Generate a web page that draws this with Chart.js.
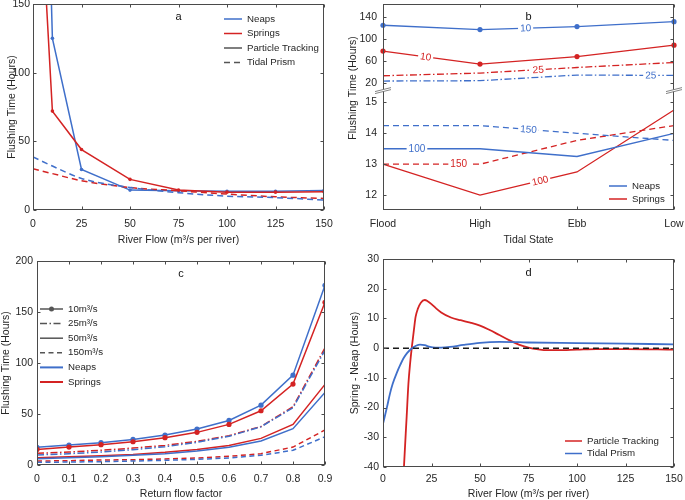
<!DOCTYPE html>
<html>
<head>
<meta charset="utf-8">
<script src="https://cdn.jsdelivr.net/npm/chart.js@4.4.1/dist/chart.umd.min.js"></script>
<style>
html, body { margin: 0; padding: 0; background: #fff; }
#wrap { position: relative; width: 685px; height: 500px; overflow: hidden; }
canvas { position: absolute; }
</style>
</head>
<body>
<div id="wrap">
  <canvas id="ca" width="340" height="250" style="left:0;top:0"></canvas>
  <canvas id="cb" width="345" height="250" style="left:340px;top:0"></canvas>
  <canvas id="cc" width="340" height="250" style="left:0;top:250px"></canvas>
  <canvas id="cd" width="345" height="250" style="left:340px;top:250px"></canvas>
</div>
<script>
const BLUE = '#3f6fca';
const RED = '#d42323';
const GREY = '#555';
const INK = '#262626';
const FONT = '"Liberation Sans", Arial, Helvetica, sans-serif';

// panel a - flushing time vs river flow
const flowPT = [5, 10, 25, 50, 75, 100, 125, 150];
const neapsPT = [380, 125, 29.5, 14.5, 14, 13.6, 13.6, 14.2];
const springsPT = [200, 72, 44, 22.3, 14.5, 13, 13, 13.2];
const flowTP = [0, 10, 25, 50, 75, 100, 125, 150];
const neapsTP = [38.6, 32, 23, 16.4, 12.6, 10.1, 9, 7.3];
const springsTP = [30, 26.5, 21.3, 16.4, 14, 11.6, 9.6, 8.4];

// panel b - flushing time by tidal state (broken axis)
const tidalStates = ['Flood', 'High', 'Ebb', 'Low'];
const neaps10 = [124.7, 117, 122.4, 131.2];
const springs10 = [78.2, 54.7, 68.2, 88.8];
const springs25 = [33.7, 38.6, 48.6, 57.6];
const neaps25 = [24.2, 24.8, 35, 34.3];
const neaps150 = [14.25, 14.25, 14.0, 13.77];
const neaps100 = [13.5, 13.5, 13.25, 14.0];
const springs150 = [13.0, 13.0, 13.77, 14.25];
const springs100 = [13.0, 12.0, 12.75, 14.75];
const upperTicks = [20, 60, 100, 140];
const lowerTicks = [12, 13, 14, 15];

// panel c - return flow factor
const returnFactor = [0, 0.1, 0.2, 0.3, 0.4, 0.5, 0.6, 0.7, 0.8, 0.9];
const neaps10c = [17.3, 19.6, 21.9, 25.1, 29.4, 35.2, 43.7, 58.7, 88.1, 176.2];
const springs10c = [15.3, 17.6, 19.9, 22.8, 26.8, 32, 39.8, 53.2, 79.3, 159.5];
const springs25c = [11.4, 12.7, 14.4, 16.6, 19.2, 23.2, 28.7, 37.8, 57.1, 114.8];
const neaps25c = [9.8, 11.1, 12.7, 15, 17.9, 22.2, 28.1, 37.5, 56.1, 112.6];
const springs50c = [7.2, 8.2, 9.1, 10.4, 12.4, 15.3, 19.2, 26.1, 39.8, 79];
const neaps50c = [6.2, 7.2, 8.2, 9.5, 11.1, 13.7, 17.3, 23.5, 35.6, 71.1];
const springs150c = [3.9, 4.2, 4.9, 5.2, 5.9, 6.9, 8.5, 11.1, 17.6, 34.3];
const neaps150c = [2.6, 2.9, 3.3, 3.9, 4.6, 5.5, 6.9, 9.5, 14.4, 27.7];

// panel d - spring minus neap
const flowDiffPT = [10, 10.8, 12.2, 13.1, 14, 14.8, 16, 16.8, 18, 19.5, 21.5, 23, 25, 27.5, 30, 35, 40, 45, 50, 55, 60, 65, 70, 75, 80, 85, 90, 100, 110, 125, 150];
const diffPT = [-52, -40, -23, -12, -5, 0, 6.5, 10.5, 13.3, 15.3, 16.2, 15.8, 14.8, 13.3, 12, 10.3, 9.4, 8.6, 7.6, 6.1, 4.4, 2.7, 1.2, 0.2, -0.4, -0.7, -0.7, -0.5, -0.3, -0.3, -0.5];
const flowDiffTP = [0, 2, 3.6, 5, 7, 9, 10.5, 12.5, 14.8, 17, 19.1, 21.5, 24.2, 27, 30, 34.5, 41.4, 50, 60, 70, 75, 100, 125, 150];
const diffTP = [-25.5, -20, -15.3, -12, -8.5, -5.5, -3.5, -1.6, -0.1, 0.8, 1.2, 1.0, 0.4, 0.2, 0.2, 0.4, 1.1, 1.8, 2.1, 2.0, 1.9, 1.7, 1.5, 1.3];
const zeroFlow = [0, 150];
const zeroLine = [0, 0];

Chart.defaults.font.family = FONT;
Chart.defaults.font.size = 10.5;
Chart.defaults.color = INK;

const pairs = (xs, ys) => xs.map((x, i) => ({ x: x, y: ys[i] }));
const noPad = s => { s.paddingTop = 0; s.paddingBottom = 0; s.paddingLeft = 0; s.paddingRight = 0; };

// box round the plot with inward ticks on all four sides
const frame = {
    id: 'frame',
    afterDatasetsDraw(chart) {
        const { ctx, chartArea: a } = chart;
        const L = Math.round(a.left) + 0.5, R = Math.round(a.right) - 0.5;
        const T = Math.round(a.top) + 0.5, B = Math.round(a.bottom) - 0.5;
        ctx.save();
        ctx.strokeStyle = '#4a4a4a';
        ctx.lineWidth = 1;
        ctx.beginPath();
        Object.values(chart.scales).forEach(s => {
            s.ticks.forEach((t, i) => {
                const p = Math.round(s.getPixelForTick(i)) + 0.5;
                if (s.isHorizontal()) {
                    ctx.moveTo(p, B); ctx.lineTo(p, B - 3);
                    ctx.moveTo(p, T); ctx.lineTo(p, T + 3);
                } else {
                    ctx.moveTo(L, p); ctx.lineTo(L + 3, p);
                    ctx.moveTo(R, p); ctx.lineTo(R - 3, p);
                }
            });
        });
        ctx.stroke();
        ctx.strokeRect(L, T, R - L, B - T);
        ctx.restore();
    }
};

// legend drawn inside the plot area
const keyBox = {
    id: 'keyBox',
    afterDraw(chart, args, o) {
        if (!o.items) return;
        const { ctx, chartArea: a } = chart;
        ctx.save();
        ctx.font = '9.7px ' + FONT;
        ctx.textBaseline = 'middle';
        o.items.forEach((it, i) => {
            const y = a.top + o.y + i * o.row;
            const x0 = a.left + o.x;
            ctx.strokeStyle = it.color;
            ctx.lineWidth = it.width || 1.5;
            ctx.setLineDash(it.dash || []);
            ctx.beginPath(); ctx.moveTo(x0, y); ctx.lineTo(x0 + o.len, y); ctx.stroke();
            ctx.setLineDash([]);
            if (it.dot) {
                ctx.fillStyle = it.color;
                ctx.beginPath(); ctx.arc(x0 + o.len / 2, y, 2.5, 0, Math.PI * 2); ctx.fill();
            }
            ctx.fillStyle = INK;
            ctx.fillText(it.text, x0 + o.len + o.gap, y);
        });
        ctx.restore();
    }
};

// panel letter
const panelTag = {
    id: 'panelTag',
    afterDraw(chart, args, o) {
        if (!o.text) return;
        const { ctx, chartArea: a } = chart;
        ctx.save();
        ctx.font = '11px ' + FONT;
        ctx.fillStyle = '#111';
        ctx.textAlign = 'center';
        ctx.textBaseline = 'middle';
        ctx.fillText(o.text, (a.left + a.right) / 2, a.top + o.dy);
        ctx.restore();
    }
};

// contour-style labels sitting on the lines of panel b
const lineTags = {
    id: 'lineTags',
    afterDatasetsDraw(chart, args, o) {
        if (!o.tags) return;
        const ctx = chart.ctx;
        ctx.save();
        ctx.font = '10px ' + FONT;
        ctx.textAlign = 'center';
        ctx.textBaseline = 'middle';
        o.tags.forEach(tag => {
            const meta = chart.getDatasetMeta(tag.ds);
            const p0 = meta.data[tag.seg], p1 = meta.data[tag.seg + 1];
            const x = p0.x + tag.t * (p1.x - p0.x);
            const y = p0.y + tag.t * (p1.y - p0.y);
            const w = ctx.measureText(tag.text).width;
            ctx.save();
            ctx.translate(x, y);
            ctx.rotate(Math.atan2(p1.y - p0.y, p1.x - p0.x));
            ctx.fillStyle = '#fff';
            ctx.fillRect(-w / 2 - 2, -4, w + 4, 8);
            ctx.fillStyle = chart.data.datasets[tag.ds].borderColor;
            ctx.fillText(tag.text, 0, 0.5);
            ctx.restore();
        });
        ctx.restore();
    }
};

// "//" marks where the two stacked y axes meet, plus the shared y title
const axisBreak = {
    id: 'axisBreak',
    afterDraw(chart, args, o) {
        if (!o.text) return;
        const { ctx, chartArea: a } = chart;
        const y = chart.scales.yTop.bottom;
        ctx.save();
        [a.left, a.right].forEach(x => {
            ctx.fillStyle = '#fff';
            ctx.beginPath();
            ctx.moveTo(x - 8, y + 1); ctx.lineTo(x + 8, y - 3);
            ctx.lineTo(x + 8, y - 1); ctx.lineTo(x - 8, y + 3);
            ctx.closePath(); ctx.fill();
            ctx.strokeStyle = '#666';
            ctx.lineWidth = 0.8;
            ctx.beginPath();
            ctx.moveTo(x - 8, y + 1); ctx.lineTo(x + 8, y - 3);
            ctx.moveTo(x - 8, y + 3); ctx.lineTo(x + 8, y - 1);
            ctx.stroke();
        });
        ctx.font = '10.5px ' + FONT;
        ctx.fillStyle = INK;
        ctx.textAlign = 'center';
        ctx.textBaseline = 'middle';
        ctx.translate(o.x, o.y);
        ctx.rotate(-Math.PI / 2);
        ctx.fillText(o.text, 0, 0);
        ctx.restore();
    }
};

function xAxis(min, max, step, title, height, lpad, tpad) {
    return {
        type: 'linear', min: min, max: max,
        grid: { display: false, drawTicks: false },
        border: { display: false },
        ticks: { stepSize: step, padding: lpad, maxRotation: 0, autoSkip: false },
        title: { display: true, text: title, padding: { top: 0, bottom: tpad } },
        afterFit: s => { s.height = height; noPad(s); }
    };
}

function yAxis(min, max, step, title, width, tpad, lpad) {
    return {
        type: 'linear', min: min, max: max,
        grid: { display: false, drawTicks: false },
        border: { display: false },
        ticks: { stepSize: step, padding: lpad },
        title: { display: !!title, text: title, padding: { top: tpad, bottom: 0 } },
        afterFit: s => { s.width = width; noPad(s); }
    };
}

const baseOpts = {
    responsive: false,
    animation: false,
    devicePixelRatio: 1,
    events: []
};

// ---------- panel a ----------
new Chart(document.getElementById('ca'), {
    type: 'line',
    data: {
        datasets: [
            { data: pairs(flowTP, neapsTP), borderColor: BLUE, borderWidth: 1.5, borderDash: [6, 4], pointRadius: 0, cubicInterpolationMode: 'monotone' },
            { data: pairs(flowTP, springsTP), borderColor: RED, borderWidth: 1.5, borderDash: [6, 4], pointRadius: 0, cubicInterpolationMode: 'monotone' },
            { data: pairs(flowPT, springsPT), borderColor: RED, backgroundColor: RED, borderWidth: 1.5, pointRadius: 1.8, pointBorderWidth: 0 },
            { data: pairs(flowPT, neapsPT), borderColor: BLUE, backgroundColor: BLUE, borderWidth: 1.5, pointRadius: 1.8, pointBorderWidth: 0 }
        ]
    },
    options: Object.assign({}, baseOpts, {
        layout: { padding: { left: 0, top: 3, right: 16, bottom: 0 } },
        scales: {
            x: xAxis(0, 150, 25, 'River Flow (m³/s per river)', 40, 8, 4),
            y: yAxis(0, 150, 50, 'Flushing Time (Hours)', 33, 5.7, 3)
        },
        plugins: {
            legend: { display: false },
            tooltip: { enabled: false },
            panelTag: { text: 'a', dy: 13 },
            keyBox: {
                x: 191, y: 15, row: 14.5, len: 18, gap: 5,
                items: [
                    { text: 'Neaps', color: BLUE },
                    { text: 'Springs', color: RED },
                    { text: 'Particle Tracking', color: GREY },
                    { text: 'Tidal Prism', color: GREY, dash: [6, 4] }
                ]
            }
        }
    }),
    plugins: [frame, keyBox, panelTag]
});

// ---------- panel b ----------
const bLine = (vals, color, axis, dash, dots) => ({
    data: vals, yAxisID: axis, borderColor: color, backgroundColor: color,
    borderWidth: 1.3, borderDash: dash || [], pointRadius: dots ? 2.6 : 0, pointBorderWidth: 0
});

new Chart(document.getElementById('cb'), {
    type: 'line',
    data: {
        labels: tidalStates,
        datasets: [
            bLine(neaps10, BLUE, 'yTop', null, true),
            bLine(springs10, RED, 'yTop', null, true),
            bLine(springs25, RED, 'yTop', [7, 2.5, 1.5, 2.5]),
            bLine(neaps25, BLUE, 'yTop', [7, 2.5, 1.5, 2.5]),
            bLine(neaps150, BLUE, 'yBot', [6, 4]),
            bLine(neaps100, BLUE, 'yBot'),
            bLine(springs150, RED, 'yBot', [6, 4]),
            bLine(springs100, RED, 'yBot')
        ]
    },
    options: Object.assign({}, baseOpts, {
        layout: { padding: { left: 0, top: 3, right: 11, bottom: 0 } },
        scales: {
            x: {
                type: 'category', offset: false,
                grid: { display: false, drawTicks: false, offset: false },
                border: { display: false },
                ticks: { padding: 8, maxRotation: 0, autoSkip: false },
                title: { display: true, text: 'Tidal State', padding: { top: 0, bottom: 4 } },
                afterFit: s => { s.height = 40; noPad(s); }
            },
            yBot: Object.assign(yAxis(11.52, 15.38, 1, '', 43, 0, 6), {
                position: 'left', stack: 'b', stackWeight: 120,
                afterBuildTicks: s => { s.ticks = lowerTicks.map(v => ({ value: v })); }
            }),
            yTop: Object.assign(yAxis(7, 163, 40, '', 43, 0, 6), {
                position: 'left', stack: 'b', stackWeight: 87,
                afterBuildTicks: s => { s.ticks = upperTicks.map(v => ({ value: v })); }
            })
        },
        plugins: {
            legend: { display: false },
            tooltip: { enabled: false },
            panelTag: { text: 'b', dy: 13 },
            axisBreak: { text: 'Flushing Time (Hours)', x: 13, y: 88 },
            lineTags: {
                tags: [
                    { ds: 0, seg: 1, t: 0.47, text: '10' },
                    { ds: 1, seg: 0, t: 0.44, text: '10' },
                    { ds: 2, seg: 1, t: 0.6, text: '25' },
                    { ds: 3, seg: 2, t: 0.76, text: '25' },
                    { ds: 4, seg: 1, t: 0.5, text: '150' },
                    { ds: 5, seg: 0, t: 0.35, text: '100' },
                    { ds: 6, seg: 0, t: 0.78, text: '150' },
                    { ds: 7, seg: 1, t: 0.62, text: '100' }
                ]
            },
            keyBox: {
                x: 226, y: 182, row: 13, len: 18, gap: 5,
                items: [
                    { text: 'Neaps', color: BLUE },
                    { text: 'Springs', color: RED }
                ]
            }
        }
    }),
    plugins: [frame, lineTags, keyBox, panelTag, axisBreak]
});

// ---------- panel c ----------
const cLine = (vals, color, dash, dots) => ({
    data: pairs(returnFactor, vals), borderColor: color, backgroundColor: color,
    borderWidth: 1.5, borderDash: dash || [], pointRadius: dots ? 2.6 : 0, pointBorderWidth: 0
});

new Chart(document.getElementById('cc'), {
    type: 'line',
    data: {
        datasets: [
            cLine(neaps150c, BLUE, [5, 3.5]),
            cLine(springs150c, RED, [5, 3.5]),
            cLine(neaps50c, BLUE),
            cLine(springs50c, RED),
            cLine(neaps25c, BLUE, [7, 2.5, 1.5, 2.5]),
            cLine(springs25c, RED, [7, 2.5, 1.5, 2.5]),
            cLine(springs10c, RED, null, true),
            cLine(neaps10c, BLUE, null, true)
        ]
    },
    options: Object.assign({}, baseOpts, {
        layout: { padding: { left: 0, top: 11, right: 15, bottom: 0 } },
        scales: {
            x: xAxis(0, 0.9, 0.1, 'Return flow factor', 35, 8, 0),
            y: yAxis(0, 200, 50, 'Flushing Time (Hours)', 37, 0, 4)
        },
        plugins: {
            legend: { display: false },
            tooltip: { enabled: false },
            panelTag: { text: 'c', dy: 13 },
            keyBox: {
                x: 3, y: 48, row: 14.6, len: 23, gap: 5,
                items: [
                    { text: '10m³/s', color: GREY, dot: true },
                    { text: '25m³/s', color: GREY, dash: [7, 2.5, 1.5, 2.5] },
                    { text: '50m³/s', color: GREY },
                    { text: '150m³/s', color: GREY, dash: [5, 3.5] },
                    { text: 'Neaps', color: BLUE, width: 2 },
                    { text: 'Springs', color: RED, width: 2 }
                ]
            }
        }
    }),
    plugins: [frame, keyBox, panelTag]
});

// ---------- panel d ----------
new Chart(document.getElementById('cd'), {
    type: 'line',
    data: {
        datasets: [
            { data: pairs(zeroFlow, zeroLine), borderColor: '#1a1a1a', borderWidth: 1.5, borderDash: [6, 4], pointRadius: 0 },
            { data: pairs(flowDiffTP, diffTP), borderColor: BLUE, borderWidth: 1.8, pointRadius: 0, cubicInterpolationMode: 'monotone' },
            { data: pairs(flowDiffPT, diffPT), borderColor: RED, borderWidth: 1.8, pointRadius: 0, cubicInterpolationMode: 'monotone' }
        ]
    },
    options: Object.assign({}, baseOpts, {
        layout: { padding: { left: 0, top: 9, right: 11, bottom: 0 } },
        scales: {
            x: xAxis(0, 150, 25, 'River Flow (m³/s per river)', 33, 6, 0),
            y: yAxis(-40, 30, 10, 'Spring - Neap (Hours)', 43, 8.7, 4)
        },
        plugins: {
            legend: { display: false },
            tooltip: { enabled: false },
            panelTag: { text: 'd', dy: 14 },
            keyBox: {
                x: 182, y: 182, row: 12.5, len: 17, gap: 5,
                items: [
                    { text: 'Particle Tracking', color: RED },
                    { text: 'Tidal Prism', color: BLUE }
                ]
            }
        }
    }),
    plugins: [frame, keyBox, panelTag]
});
</script>
</body>
</html>
